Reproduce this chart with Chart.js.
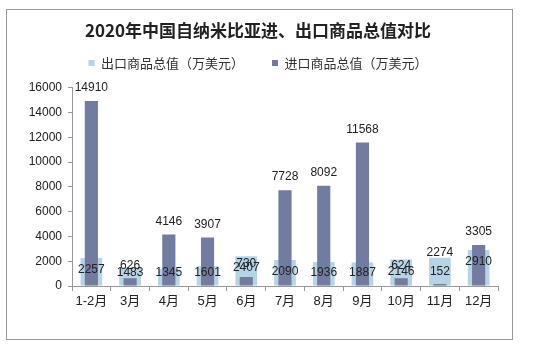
<!DOCTYPE html>
<html>
<head>
<meta charset="utf-8">
<script src="https://cdn.jsdelivr.net/npm/chart.js@4/dist/chart.umd.min.js"></script>
<style>
  html, body { margin: 0; padding: 0; background: #fff; }
  #wrap { position: relative; width: 546px; height: 352px; }
  #frame { position: absolute; left: 6px; top: 9px; width: 505px; height: 329px; border: 1px solid #999; pointer-events: none; }
  canvas { position: absolute; left: 0; top: 0; }
</style>
</head>
<body>
<div id="wrap">
  <canvas id="chart" width="546" height="352"></canvas>
  <div id="frame"></div>
</div>
<script>
const months = ["1-2月", "3月", "4月", "5月", "6月", "7月", "8月", "9月", "10月", "11月", "12月"];
const exportValues = [2257, 1483, 1345, 1601, 2407, 2090, 1936, 1887, 2146, 2274, 2910];
const importValues = [14910, 626, 4146, 3907, 730, 7728, 8092, 11568, 624, 152, 3305];
const yTicks = [0, 2000, 4000, 6000, 8000, 10000, 12000, 14000, 16000];

const exportColor = "#b6d4e6";
const importColor = "#727ca0";
const textFont = "'Liberation Sans', Arial, 'Noto Sans CJK SC', sans-serif";
const cjkFont = "'Noto Sans CJK SC', 'Liberation Sans', sans-serif";

// value labels, roughly the way the spreadsheet placed them
const valueLabels = {
  id: "valueLabels",
  afterDatasetsDraw(chart) {
    const ctx = chart.ctx;
    const y = chart.scales.y;
    const base = y.getPixelForValue(0);
    ctx.save();
    ctx.font = "12px " + textFont;
    ctx.fillStyle = "#222";
    ctx.textAlign = "center";
    ctx.textBaseline = "middle";
    const expMeta = chart.getDatasetMeta(0);
    const impMeta = chart.getDatasetMeta(1);
    months.forEach((m, i) => {
      const ex = expMeta.data[i];
      const im = impMeta.data[i];
      const swap = importValues[i] < exportValues[i] * 0.1;
      if (swap) {
        ctx.fillText(exportValues[i], ex.x, ex.y - 5);
        ctx.fillText(importValues[i], im.x, base - 14);
      } else {
        ctx.fillText(exportValues[i], ex.x, Math.min(ex.y + 12, base - 13));
        ctx.fillText(importValues[i], im.x, im.y - 13);
      }
    });
    ctx.restore();
  }
};

new Chart(document.getElementById("chart"), {
  type: "bar",
  data: {
    labels: months,
    datasets: [
      {
        label: "出口商品总值（万美元）",
        data: exportValues,
        backgroundColor: exportColor,
        grouped: false,
        categoryPercentage: 1,
        barPercentage: 0.56,
        order: 2,
      },
      {
        label: "进口商品总值（万美元）",
        data: importValues,
        backgroundColor: importColor,
        grouped: false,
        categoryPercentage: 1,
        barPercentage: 0.34,
        order: 1,
      },
    ],
  },
  options: {
    responsive: false,
    animation: false,
    layout: { padding: { left: 0, right: 30, top: 0, bottom: 0 } },
    plugins: {
      title: {
        display: true,
        text: "2020年中国自纳米比亚进、出口商品总值对比",
        color: "#222",
        font: { family: cjkFont, size: 17, weight: "bold" },
        padding: { top: 20, bottom: -12 },
      },
      // empty subtitle used as a gap between legend and plot
      subtitle: {
        display: true,
        text: "",
        weight: 500,
        font: { size: 1 },
        padding: { top: 0, bottom: 7 },
      },
      legend: {
        display: true,
        position: "top",
        labels: {
          color: "#333",
          font: { family: cjkFont, size: 13 },
          boxWidth: 6,
          boxHeight: 6,
          padding: 28,
          sort: (a, b) => a.datasetIndex - b.datasetIndex,
        },
      },
      tooltip: { enabled: false },
    },
    scales: {
      x: {
        grid: {
          display: true,
          drawOnChartArea: false,
          offset: true,
          tickLength: 5,
          color: "#999",
        },
        border: { color: "#999" },
        ticks: {
          color: "#222",
          font: { family: textFont, size: 13 },
          padding: 3,
          maxRotation: 0,
          autoSkip: false,
        },
        afterFit(scale) {
          scale.height = 66;
        },
      },
      y: {
        min: 0,
        max: 16000,
        afterBuildTicks(scale) {
          scale.ticks = yTicks.map((v) => ({ value: v }));
        },
        grid: {
          display: true,
          drawOnChartArea: false,
          tickLength: 4,
          color: "#999",
        },
        border: { color: "#999" },
        ticks: {
          color: "#222",
          font: { family: textFont, size: 12 },
          padding: 6,
          callback: (v) => String(v),
        },
        afterFit(scale) {
          scale.width = 72;
        },
      },
      yRight: {
        position: "right",
        display: true,
        min: 0,
        max: 16000,
        grid: { display: false },
        border: { display: false },
        ticks: { display: false },
        afterFit(scale) {
          scale.width = 18;
        },
      },
    },
  },
  plugins: [valueLabels],
});
</script>
</body>
</html>
